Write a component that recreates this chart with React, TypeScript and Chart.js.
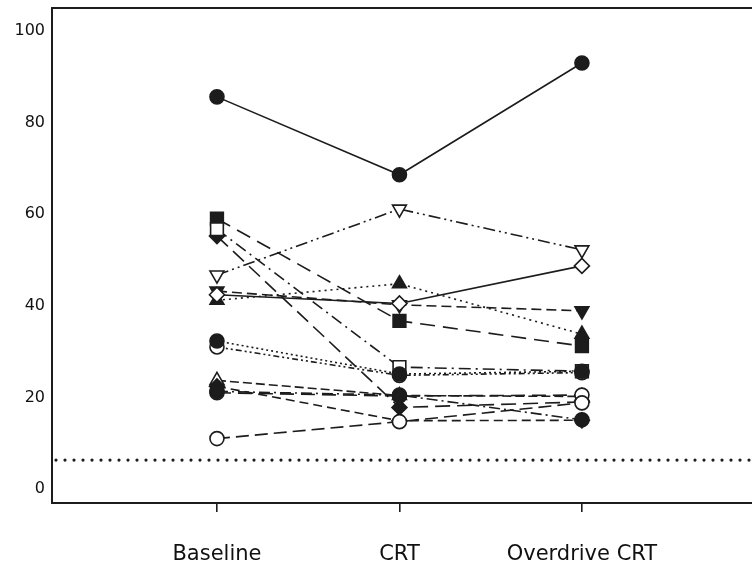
import React, { useEffect, useRef } from 'react';
import { Chart, registerables } from 'chart.js';

Chart.register(...registerables);

// ---- data ----
const categories = ['Baseline', 'CRT', 'Overdrive CRT'];
const yTickValues = [0, 20, 40, 60, 80, 100];
const referenceLevel = 6.3;

const filledCircleSolid = [85.6, 68.6, 93.0];
const openCircleRise = [11.0, 14.7, 18.8];
const filledCircleDashDot = [21.3, 20.5, 15.1];
const openCircleFlat = [21.0, 20.3, 20.5];
const filledDiamondLow = [22.4, 14.9, 15.0];
const openTriangleUp = [23.7, 20.4, 20.2];
const filledCircleDotted = [32.3, 25.1, 25.7];
const openCircleDotted = [31.0, 24.8, 25.4];
const openSquare = [56.7, 26.6, 25.7];
const openDiamond = [42.4, 40.5, 48.7];
const filledTriangleDown = [43.2, 40.2, 38.9];
const filledTriangleUp = [41.2, 44.8, 33.8];
const openTriangleDown = [46.7, 61.1, 52.2];
const filledDiamondHigh = [55.2, 17.8, 19.0];
const filledSquare = [59.0, 36.7, 31.2];

const X_MIN = -0.904;
const X_MAX = 2.932;
const Y_MIN = -3.06;
const Y_MAX = 105.0;

const INK = '#1c1c1c';

type SeriesStyle = {
  values: number[];
  pointStyle: string;
  filled: boolean;
  dash: number[];
  radius: number;
  rotation?: number;
};

const series: SeriesStyle[] = [
  { values: filledCircleSolid, pointStyle: 'circle', filled: true, dash: [], radius: 7 },
  { values: openCircleRise, pointStyle: 'circle', filled: false, dash: [13, 6], radius: 7 },
  { values: filledCircleDashDot, pointStyle: 'circle', filled: true, dash: [11, 4, 2, 4], radius: 7 },
  { values: openCircleFlat, pointStyle: 'circle', filled: false, dash: [14, 7], radius: 7 },
  { values: filledDiamondLow, pointStyle: 'rectRot', filled: true, dash: [9, 5], radius: 7.5 },
  { values: openTriangleUp, pointStyle: 'triangle', filled: false, dash: [9, 4], radius: 8 },
  { values: filledCircleDotted, pointStyle: 'circle', filled: true, dash: [2, 3], radius: 7 },
  { values: openCircleDotted, pointStyle: 'circle', filled: false, dash: [6, 3, 2, 3, 2, 3], radius: 7 },
  { values: openSquare, pointStyle: 'rect', filled: false, dash: [12, 5, 2, 5], radius: 9 },
  { values: openDiamond, pointStyle: 'rectRot', filled: false, dash: [], radius: 7.5 },
  { values: filledTriangleDown, pointStyle: 'triangle', filled: true, dash: [10, 5], radius: 8, rotation: 180 },
  { values: filledTriangleUp, pointStyle: 'triangle', filled: true, dash: [2, 4], radius: 8 },
  { values: openTriangleDown, pointStyle: 'triangle', filled: false, dash: [12, 4, 2, 4, 2, 4], radius: 8, rotation: 180 },
  { values: filledDiamondHigh, pointStyle: 'rectRot', filled: true, dash: [15, 7], radius: 7.5 },
  { values: filledSquare, pointStyle: 'rect', filled: true, dash: [15, 8], radius: 9 },
];

const framePlugin = {
  id: 'frame',
  afterDraw(chart: any) {
    const { ctx, chartArea } = chart;
    ctx.save();
    ctx.strokeStyle = INK;
    ctx.lineWidth = 2;
    ctx.beginPath();
    ctx.moveTo(chart.width + 2, chartArea.top);
    ctx.lineTo(chartArea.left, chartArea.top);
    ctx.lineTo(chartArea.left, chartArea.bottom);
    ctx.lineTo(chart.width + 2, chartArea.bottom);
    ctx.stroke();
    ctx.restore();
  },
};

export default function App() {
  const canvasRef = useRef<HTMLCanvasElement | null>(null);

  useEffect(() => {
    if (!canvasRef.current) return;

    const datasets: any[] = series.map((s) => ({
      data: s.values.map((v, i) => ({ x: i, y: v })),
      borderColor: INK,
      borderWidth: 1.6,
      borderDash: s.dash,
      pointStyle: s.pointStyle,
      pointRadius: s.radius,
      pointRotation: s.rotation ?? 0,
      pointBackgroundColor: s.filled ? INK : '#ffffff',
      pointBorderColor: INK,
      pointBorderWidth: 1.6,
      fill: false,
      tension: 0,
    }));

    datasets.push({
      data: [
        { x: X_MIN, y: referenceLevel },
        { x: X_MAX, y: referenceLevel },
      ],
      borderColor: INK,
      borderWidth: 3.2,
      borderDash: [0, 9],
      borderDashOffset: -13,
      borderCapStyle: 'round',
      pointRadius: 0,
      fill: false,
    });

    const chart = new Chart(canvasRef.current, {
      type: 'line',
      data: { datasets },
      plugins: [framePlugin],
      options: {
        animation: false,
        responsive: false,
        maintainAspectRatio: false,
        layout: { autoPadding: false, padding: { top: 8, left: 0, right: 0, bottom: 0 } },
        plugins: {
          legend: { display: false },
          tooltip: { enabled: false },
        },
        scales: {
          x: {
            type: 'linear',
            min: X_MIN,
            max: X_MAX,
            afterBuildTicks: (scale: any) => {
              scale.ticks = categories.map((_, i) => ({ value: i }));
            },
            afterFit: (scale: any) => {
              scale.height = 64;
              scale.paddingLeft = 0;
              scale.paddingRight = 0;
            },
            grid: {
              display: true,
              drawOnChartArea: false,
              drawTicks: true,
              tickLength: 9,
              color: INK,
              lineWidth: 1.6,
            },
            border: { display: false },
            ticks: {
              autoSkip: false,
              maxRotation: 0,
              padding: 30,
              color: '#111',
              font: { family: 'DejaVu Sans', size: 21 },
              callback: (v: any) => categories[Number(v)] ?? '',
            },
          },
          y: {
            type: 'linear',
            min: Y_MIN,
            max: Y_MAX,
            afterBuildTicks: (scale: any) => {
              scale.ticks = yTickValues.map((v) => ({ value: v }));
            },
            afterFit: (scale: any) => {
              scale.width = 52;
              scale.paddingTop = 0;
              scale.paddingBottom = 0;
            },
            grid: { display: false, drawTicks: false },
            border: { display: false },
            ticks: {
              padding: 7,
              color: '#111',
              font: { family: 'DejaVu Sans', size: 16 },
            },
          },
        },
      },
    });

    return () => chart.destroy();
  }, []);

  return (
    <div style={{ position: 'fixed', left: 0, top: 0, width: 752, height: 567, background: '#fff' }}>
      <canvas ref={canvasRef} width={752} height={567} style={{ display: 'block' }} />
    </div>
  );
}
